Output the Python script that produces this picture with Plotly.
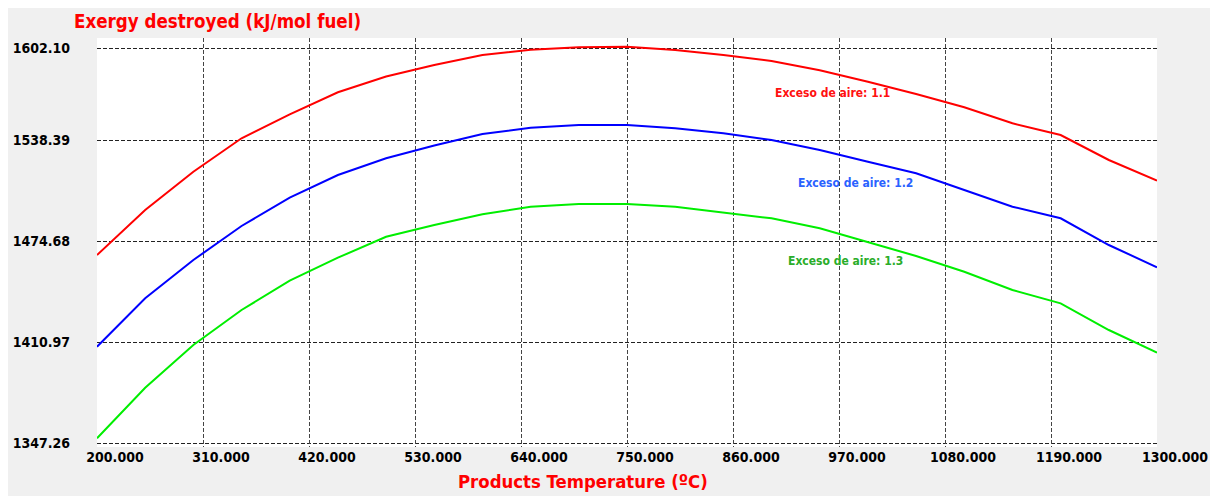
import plotly.graph_objects as go

# ---- data ----
temperature = [200, 250, 300, 350, 400, 450, 500, 550, 600, 650, 700, 750,
               800, 850, 900, 950, 1000, 1050, 1100, 1150, 1200, 1250, 1300]

exergy_aire_1_1 = [1465.85, 1494.23, 1518.39, 1539.46, 1554.60, 1568.48, 1578.44,
                   1585.70, 1592.01, 1595.35, 1596.86, 1597.24, 1595.16, 1592.01,
                   1588.22, 1582.36, 1575.16, 1567.41, 1559.02, 1548.92, 1541.54,
                   1525.77, 1512.72]
exergy_aire_1_2 = [1408.00, 1438.53, 1462.69, 1484.14, 1501.99, 1516.31, 1526.85,
                   1534.92, 1542.17, 1546.15, 1547.85, 1547.85, 1545.77, 1542.61,
                   1538.39, 1532.08, 1524.70, 1517.38, 1506.85, 1496.32, 1489.00,
                   1472.16, 1458.09]
exergy_aire_1_3 = [1350.22, 1382.14, 1409.08, 1431.15, 1449.64, 1464.15, 1477.39,
                   1484.77, 1491.52, 1496.32, 1498.02, 1498.02, 1496.32, 1492.78,
                   1489.00, 1482.69, 1473.86, 1465.22, 1455.31, 1443.77, 1435.38,
                   1418.54, 1404.22]

series_names = ["Exceso de aire: 1.1", "Exceso de aire: 1.2", "Exceso de aire: 1.3"]

x_tick_values = [200, 310, 420, 530, 640, 750, 860, 970, 1080, 1190, 1300]
x_tick_labels = ["200.000", "310.000", "420.000", "530.000", "640.000", "750.000",
                 "860.000", "970.000", "1080.000", "1190.000", "1300.000"]
x_grid_values = [310, 420, 530, 640, 750, 860, 970, 1080, 1190]

y_tick_values = [1347.26, 1410.97, 1474.68, 1538.39, 1596.42]
y_tick_labels = ["1347.26", "1410.97", "1474.68", "1538.39", "1602.10"]

title_text = "Exergy destroyed (kJ/mol fuel)"
x_title_text = "Products Temperature (ºC)"

# ---- layout geometry (the page body adds an 8px offset) ----
OFF = 8
W, H = 1204, 488
L, R, T, B = 89, 55, 30, 49
PW, PH = W - L - R, H - T - B


def px(xp):  # window pixel -> paper x
    return (xp - OFF - L) / PW


def py(yp):  # window pixel -> paper y
    return (H - B - (yp - OFF)) / PH


FONT = "DejaVu Sans Condensed, DejaVu Sans, Verdana, sans-serif"

line_colors = ["#ff0000", "#0000ff", "#00ee00"]
label_colors = ["#ff1010", "#2a62ff", "#2aad2a"]
label_pos = [(832.5, 93.3), (855.7, 182.7), (845.0, 260.7)]

fig = go.Figure()
for ys, name, col in zip([exergy_aire_1_1, exergy_aire_1_2, exergy_aire_1_3],
                         series_names, line_colors):
    fig.add_trace(go.Scatter(x=temperature, y=ys, mode="lines", name=name,
                             line=dict(color=col, width=2), showlegend=False))

# invisible trace to carry the grid-only x axis
fig.add_trace(go.Scatter(x=temperature, y=exergy_aire_1_1, xaxis="x2", mode="lines",
                         line=dict(width=0), opacity=0, hoverinfo="skip",
                         showlegend=False))

annotations = [
    dict(text=title_text, xref="paper", yref="paper", x=px(72), y=py(21.7),
         xanchor="left", yanchor="middle", showarrow=False,
         font=dict(family=FONT, size=18.6, color="#ff0000", weight="bold")),
    dict(text=x_title_text, xref="paper", yref="paper", x=px(583), y=py(481),
         xanchor="center", yanchor="middle", showarrow=False,
         font=dict(family=FONT, size=18.4, color="#ff0000", weight="bold")),
]
for name, col, (lx, ly) in zip(series_names, label_colors, label_pos):
    annotations.append(dict(text=name, xref="paper", yref="paper", x=px(lx), y=py(ly),
                            xanchor="center", yanchor="middle", showarrow=False,
                            font=dict(family=FONT, size=12, color=col, weight="bold")))

tick_font = dict(family=FONT, size=14, color="#000000", weight="bold")

fig.update_layout(
    width=W, height=H,
    margin=dict(l=L, r=R, t=T, b=B, pad=0, autoexpand=False),
    paper_bgcolor="#f0f0f0",
    plot_bgcolor="#ffffff",
    showlegend=False,
    annotations=annotations,
    xaxis=dict(range=[200, 1300], tickmode="array", tickvals=x_tick_values,
               ticktext=x_tick_labels, showgrid=False, zeroline=False,
               showline=False, ticks="", tickfont=tick_font, automargin=False,
               ticklabelshift=18, ticklabelstandoff=0),
    xaxis2=dict(range=[200, 1300], overlaying="x", tickmode="array",
                tickvals=x_grid_values, showticklabels=False, showgrid=True,
                gridcolor="#444444", gridwidth=1, griddash="4px,2px",
                zeroline=False, showline=False, ticks="", automargin=False),
    yaxis=dict(range=[1344.74, 1602.73], tickmode="array", tickvals=y_tick_values,
               ticktext=y_tick_labels, showgrid=True, gridcolor="#222222",
               gridwidth=1, griddash="4px,2px", zeroline=False, showline=False,
               ticks="", tickfont=tick_font, ticklabelstandoff=26,
               automargin=False),
)

fig.write_html("out.html")
